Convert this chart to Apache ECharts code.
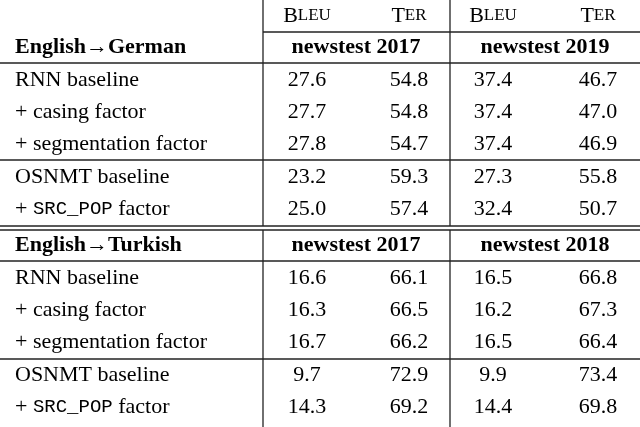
<!DOCTYPE html>
<html><head><meta charset="utf-8">
<script src="https://cdn.jsdelivr.net/npm/echarts@6/dist/echarts.min.js"></script>
<style>html,body{margin:0;background:#fff}#main{width:640px;height:427px}</style>
</head><body><div id="main"></div>
<script>
const rowLabels = ['RNN baseline', '+ casing factor', '+ segmentation factor', 'OSNMT baseline', '+ {m|SRC_POP} factor'];
const germanTests = ['newstest 2017', 'newstest 2019'];
const turkishTests = ['newstest 2017', 'newstest 2018'];
const germanValues = [
  ['27.6', '54.8', '37.4', '46.7'],
  ['27.7', '54.8', '37.4', '47.0'],
  ['27.8', '54.7', '37.4', '46.9'],
  ['23.2', '59.3', '27.3', '55.8'],
  ['25.0', '57.4', '32.4', '50.7']
];
const turkishValues = [
  ['16.6', '66.1', '16.5', '66.8'],
  ['16.3', '66.5', '16.2', '67.3'],
  ['16.7', '66.2', '16.5', '66.4'],
  ['9.7', '72.9', '9.9', '73.4'],
  ['14.3', '69.2', '14.4', '69.8']
];

const font = 'Liberation Serif';
const colX = [307, 409, 493, 598];
const groupX = [356, 545];
const rich = {
  big: {fontSize: 22, fontFamily: font, fill: '#000'},
  sc: {fontSize: 17, fontFamily: font, fill: '#000'},
  m: {fontSize: 19, fontFamily: 'Liberation Mono', fill: '#000'}
};
const els = [];
function txt(x, y, t, align, bold) {
  els.push({type: 'text', x, y, style: {text: t, x: 0, y: 0, align, verticalAlign: 'middle',
    fontFamily: font, fontSize: 22, fontWeight: bold ? 'bold' : 'normal', fill: '#000', rich}});
}
function hline(y, x1) {
  els.push({type: 'line', shape: {x1: x1 || 0, y1: y, x2: 640, y2: y}, style: {stroke: '#222', lineWidth: 1.3}});
}
function vline(x, y1, y2) {
  els.push({type: 'line', shape: {x1: x, y1, x2: x, y2}, style: {stroke: '#222', lineWidth: 1.3}});
}
const metric = ['{big|B}{sc|LEU}', '{big|T}{sc|ER}', '{big|B}{sc|LEU}', '{big|T}{sc|ER}'];
metric.forEach((m, i) => txt(colX[i], 16, m, 'center'));
function block(title, tests, values, yTitle) {
  txt(15, yTitle, title, 'left', true);
  tests.forEach((t, i) => txt(groupX[i], yTitle, t, 'center', true));
  values.forEach((row, r) => {
    const y = yTitle + 33 + r * 32.3;
    txt(15, y, rowLabels[r], 'left');
    row.forEach((v, c) => txt(colX[c], y, v, 'center'));
  });
}
block('English\u2192German', germanTests, germanValues, 47);
block('English\u2192Turkish', turkishTests, turkishValues, 245);
hline(32, 263); hline(63); hline(160); hline(226); hline(230); hline(261); hline(359);
vline(263, 0, 226); vline(450, 0, 226);
vline(263, 230, 427); vline(450, 230, 427);

const chart = echarts.init(document.getElementById('main'));
chart.setOption({animation: false, graphic: {elements: els}});
</script></body></html>
